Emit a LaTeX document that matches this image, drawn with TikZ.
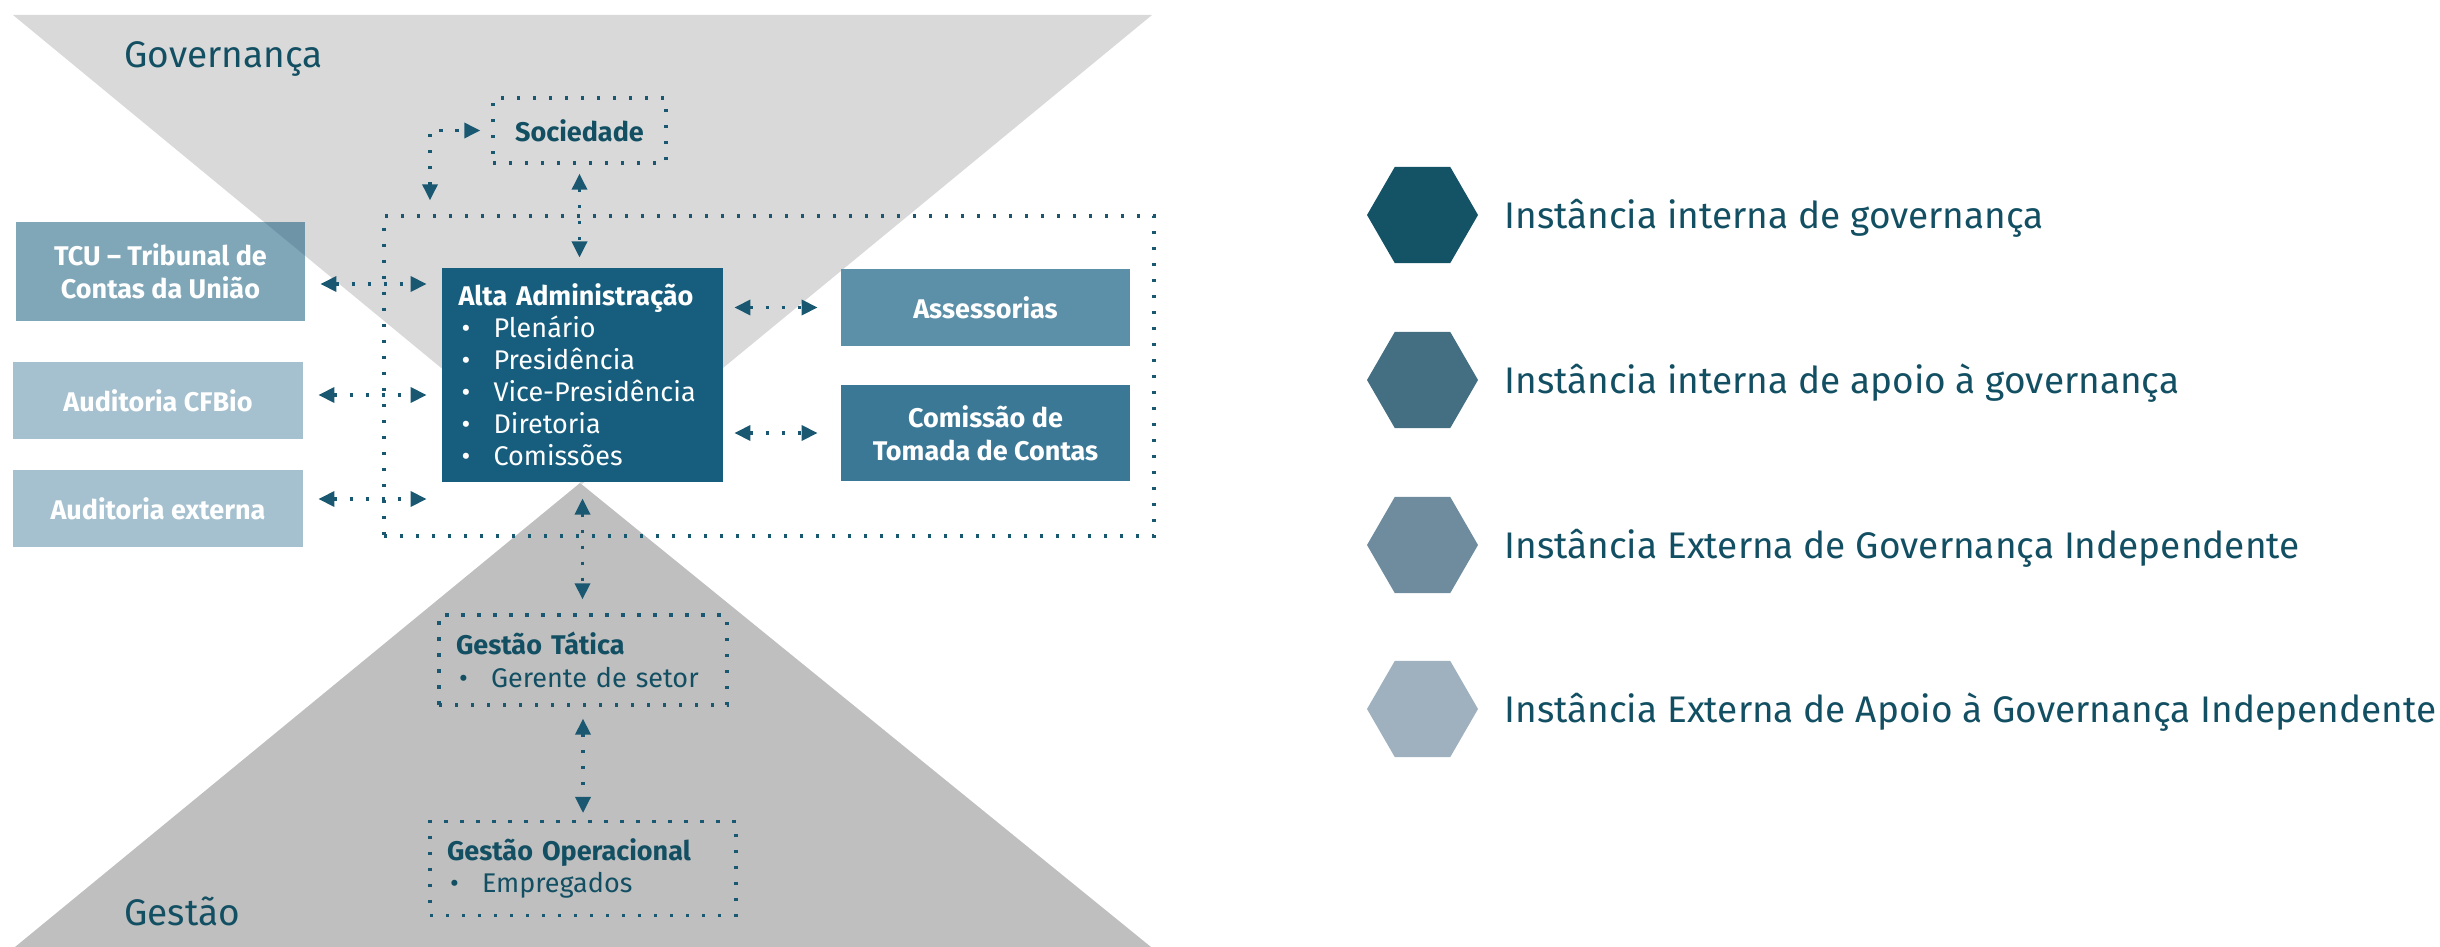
\documentclass[tikz,border=0pt]{standalone}
\usepackage{fontspec}
\setmainfont{Fira Sans}
\usetikzlibrary{arrows.meta,shapes.geometric}

\definecolor{govtop}{HTML}{D9D9D9}
\definecolor{govbot}{HTML}{BFBFBF}
\definecolor{altacol}{HTML}{175E7E}
\definecolor{asscol}{HTML}{5B90A8}
\definecolor{comcol}{HTML}{3A7896}
\definecolor{audcol}{HTML}{A5C1CF}
\definecolor{dotcol}{HTML}{1A5872}
\definecolor{inktext}{HTML}{134F63}
\definecolor{hex1}{HTML}{145266}
\definecolor{hex2}{HTML}{446E82}
\definecolor{hex3}{HTML}{6E8C9E}
\definecolor{hex4}{HTML}{9FB1BF}

\newcommand{\bul}{\makebox[17.5pt][l]{\hspace{1.5pt}\textbullet}}

\begin{document}
\begin{tikzpicture}[x=0.5pt,y=-0.5pt]
            \tikzstyle{box}=[rectangle,inner sep=0pt,text=white,align=center,font=\bfseries\fontsize{13.5}{16.5}\selectfont]
            \tikzstyle{dotbox}=[rectangle,draw=dotcol,line width=1.7pt,dash pattern=on 1.7pt off 6.3pt,text=inktext,inner sep=0pt]
            \tikzstyle{link}=[draw=dotcol,line width=1.7pt,dash pattern=on 1.7pt off 6.3pt,{Triangle[length=8pt,width=7.5pt]}-{Triangle[length=8pt,width=7.5pt]}]
            \tikzstyle{corner}=[text=inktext,inner sep=0pt,font=\fontsize{18.5}{22}\selectfont]
            \tikzstyle{hexa}=[regular polygon,regular polygon sides=6,minimum size=55.5pt,inner sep=0pt]
            \tikzstyle{legtext}=[text=inktext,inner sep=0pt,font=\fontsize{18.5}{22}\selectfont]
                \useasboundingbox (0,0) rectangle (2440,947);

                % hourglass
                \fill[govtop] (13,15) -- (1152,15) -- (582,484) -- cycle;
                \fill[govbot] (15,947) -- (1151,947) -- (580,483) -- cycle;
                \node[corner,anchor=base west] (gov) at (124,68) {Governança};
                \node[corner,anchor=base west] (ges) at (124,925) {Gestão};

                % boxes
                \node[dotbox,minimum width=385pt,minimum height=160pt] (frame) at (769,376) {};
                \node[dotbox,minimum width=86.5pt,minimum height=32.5pt,font=\bfseries\fontsize{13.5}{16.5}\selectfont] (soc) at (579.5,130.5) {Sociedade};
                \node[box,fill=altacol,fill opacity=0.55,text opacity=1,minimum width=144.5pt,minimum height=49.5pt] (tcu) at (160.5,271.5) {TCU -- Tribunal de\\Contas da União};
                \node[box,fill=audcol,minimum width=145pt,minimum height=38.5pt] (cfbio) at (158,400.5) {Auditoria CFBio};
                \node[box,fill=audcol,minimum width=145pt,minimum height=38.5pt] (ext) at (158,508.5) {Auditoria externa};
                \node[box,fill=altacol,minimum width=140.5pt,minimum height=107pt,text width=124pt,inner sep=8pt,align=left,font=\fontsize{13.5}{16}\selectfont] (alta) at (582.5,375) {\textbf{Alta Administração}\\\bul Plenário\\\bul Presidência\\\bul Vice-Presidência\\\bul Diretoria\\\bul Comissões};
                \node[box,fill=asscol,minimum width=144.5pt,minimum height=38.5pt] (ass) at (985.5,307.5) {Assessorias};
                \node[box,fill=comcol,minimum width=144.5pt,minimum height=48pt] (com) at (985.5,433) {Comissão de\\Tomada de Contas};
                \node[dotbox,minimum width=144pt,minimum height=43pt,text width=127pt,inner sep=8.5pt,align=left,font=\fontsize{13.5}{16.5}\selectfont] (tat) at (583,660) {\textbf{Gestão Tática}\\\bul Gerente de setor};
                \node[dotbox,minimum width=153pt,minimum height=43.5pt,text width=136pt,inner sep=8.5pt,align=left,font=\fontsize{13.5}{16}\selectfont] (ope) at (583,868.5) {\textbf{Gestão Operacional}\\\bul Empregados};

                % connectors
                \coordinate (y-tcu) at (0,284);
                \coordinate (y-cfbio) at (0,395);
                \coordinate (y-ext) at (0,499);
                \coordinate (c-elbow) at (430,0);
                \foreach \from in {tcu, cfbio, ext}
                    \draw[link,shorten <=7.5pt,shorten >=7.5pt] (\from.east |- y-\from) -- (alta.west |- y-\from);
                \foreach \to in {ass, com}
                    \draw[link,shorten <=5.5pt,shorten >=11.5pt] (alta.east |- \to.west) -- (\to.west);
                \draw[link,shorten <=4.5pt,shorten >=5pt] (soc.south) -- (soc.south |- alta.north);
                \draw[link,shorten <=7pt,shorten >=5.5pt] (c-elbow |- frame.north) |- (soc.west);
                \draw[link,shorten <=8pt,shorten >=7pt] (alta.south) -- (alta.south |- tat.north);
                \draw[link,shorten <=6pt,shorten >=3.5pt] (tat.south) -- (ope.north);

                % legend
                \foreach \i/\yy/\txt in {1/215/{Instância interna de governança}, 2/380/{Instância interna de apoio à governança}, 3/545/{Instância Externa de Governança Independente}, 4/709/{Instância Externa de Apoio à Governança Independente}} {
                    \node[hexa,fill=hex\i] (H-\i) at (1422.5,\yy) {};
                    \node[legtext,anchor=base west] (L-\i) at (1504,\yy+13) {\txt};
                }
        \end{tikzpicture}
\end{document}
